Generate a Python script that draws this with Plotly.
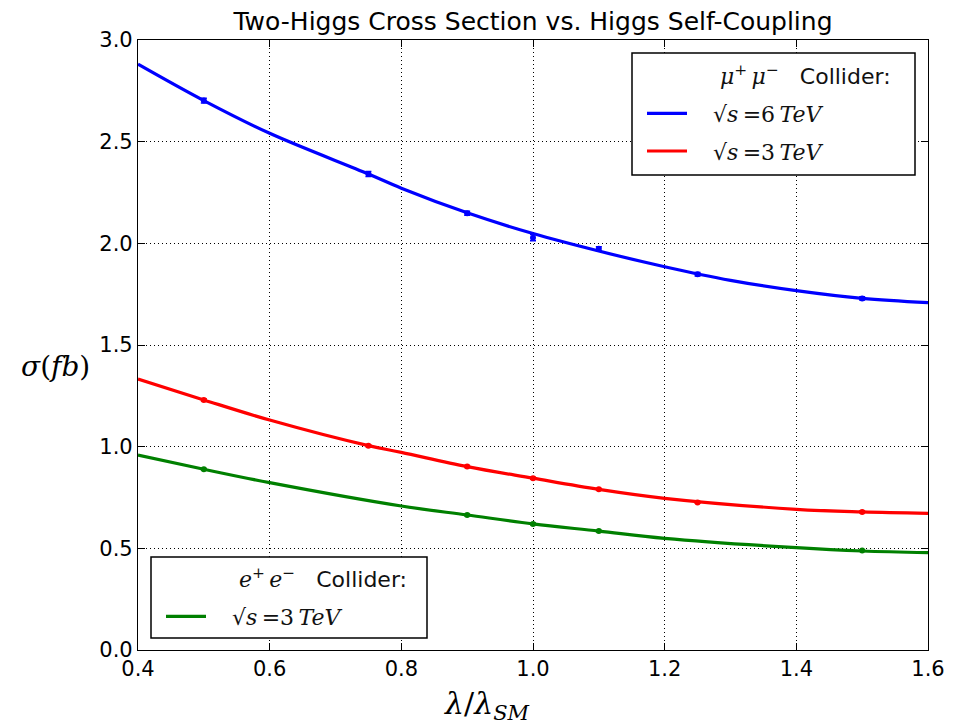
import plotly.graph_objects as go

# Fitted curves
mu6_curve_x = [0.4, 0.5, 0.6, 0.75, 0.8, 0.9, 1.0, 1.1, 1.2, 1.3, 1.4, 1.5, 1.6]
mu6_curve_y = [2.881, 2.702, 2.541, 2.341, 2.271, 2.150, 2.048, 1.962, 1.885, 1.818, 1.767, 1.729, 1.708]

mu3_curve_x = [0.4, 0.5, 0.6, 0.75, 0.8, 0.9, 1.0, 1.1, 1.2, 1.4, 1.5, 1.6]
mu3_curve_y = [1.333, 1.230, 1.131, 1.005, 0.972, 0.902, 0.845, 0.790, 0.746, 0.692, 0.679, 0.672]

ee3_curve_x = [0.4, 0.5, 0.6, 0.8, 0.9, 1.0, 1.1, 1.2, 1.4, 1.5, 1.6]
ee3_curve_y = [0.959, 0.889, 0.823, 0.708, 0.664, 0.620, 0.585, 0.549, 0.503, 0.487, 0.479]

# Simulated points with uncertainties
mu6_x = [0.5, 0.75, 0.9, 1.0, 1.1, 1.25, 1.5]
mu6_y = [2.702, 2.341, 2.148, 2.028, 1.973, 1.848, 1.729]
mu6_err = [0.012, 0.012, 0.010, 0.015, 0.010, 0.009, 0.008]

mu3_x = [0.5, 0.75, 0.9, 1.0, 1.1, 1.25, 1.5]
mu3_y = [1.230, 1.005, 0.902, 0.845, 0.790, 0.726, 0.679]
mu3_err = [0.006, 0.005, 0.005, 0.005, 0.004, 0.004, 0.004]

ee3_x = [0.5, 0.9, 1.0, 1.1, 1.5]
ee3_y = [0.889, 0.664, 0.620, 0.585, 0.489]
ee3_err = [0.004, 0.004, 0.004, 0.003, 0.003]

x_ticks = [0.4, 0.6, 0.8, 1.0, 1.2, 1.4, 1.6]
y_ticks = [0.0, 0.5, 1.0, 1.5, 2.0, 2.5, 3.0]

BLUE, RED, GREEN = "#0000ff", "#ff0000", "#008000"
FONT = "DejaVu Sans"
SERIF = "DejaVu Serif"

# plot area in pixels (for paper-coordinate conversions)
PL, PR, PT, PB = 138, 928, 40, 650
def px(xp):
    return (xp - PL) / (PR - PL)
def py(yp):
    return (PB - yp) / (PB - PT)

fig = go.Figure()

def add_points(x, y, err, color):
    fig.add_trace(go.Scatter(
        x=x, y=y, mode="markers", showlegend=False,
        marker=dict(color=color, size=6),
        error_y=dict(type="data", array=err, color=color, thickness=1.5, width=3),
    ))

PAD = "\u00a0\u00a0\u00a0"
HPAD = "\u00a0\u00a0\u00a0\u00a0"
# legend 1 header
fig.add_trace(go.Scatter(x=[None], y=[None], mode="lines",
                         line=dict(color="rgba(0,0,0,0)", width=0),
                         name=HPAD + "<i>μ</i><sup>+</sup>\u2009<i>μ</i><sup>−</sup>\u00a0\u00a0\u00a0<span style='font-family:DejaVu Sans'>Collider:</span>",
                         legend="legend", legendgroup="h1"))
fig.add_trace(go.Scatter(x=mu6_curve_x, y=mu6_curve_y, mode="lines",
                         line=dict(color=BLUE, width=3.2, shape="spline", smoothing=1.0),
                         name=PAD + "√<i>s</i>\u2009=6\u2009<i>TeV</i>", legend="legend", legendgroup="b"))
fig.add_trace(go.Scatter(x=mu3_curve_x, y=mu3_curve_y, mode="lines",
                         line=dict(color=RED, width=3.2, shape="spline", smoothing=1.0),
                         name=PAD + "√<i>s</i>\u2009=3\u2009<i>TeV</i>", legend="legend", legendgroup="r"))
# legend 2
fig.add_trace(go.Scatter(x=[None], y=[None], mode="lines",
                         line=dict(color="rgba(0,0,0,0)", width=0),
                         name=HPAD + "<i>e</i><sup>+</sup>\u2009<i>e</i><sup>−</sup>\u00a0\u00a0\u00a0<span style='font-family:DejaVu Sans'>Collider:</span>",
                         legend="legend2", legendgroup="h2"))
fig.add_trace(go.Scatter(x=ee3_curve_x, y=ee3_curve_y, mode="lines",
                         line=dict(color=GREEN, width=3.2, shape="spline", smoothing=1.0),
                         name=PAD + "√<i>s</i>\u2009=3\u2009<i>TeV</i>", legend="legend2", legendgroup="g"))

add_points(mu6_x, mu6_y, mu6_err, BLUE)
add_points(mu3_x, mu3_y, mu3_err, RED)
add_points(ee3_x, ee3_y, ee3_err, GREEN)

axis_common = dict(
    showline=True, linecolor="black", linewidth=1.2, mirror="ticks",
    ticks="inside", ticklen=7, tickcolor="black", tickwidth=1,
    showgrid=True, gridcolor="black", griddash="1px,3px", gridwidth=1,
    zeroline=False, tickfont=dict(family=FONT, size=21, color="black"),
)

legend_common = dict(
    bordercolor="rgba(0,0,0,0)", borderwidth=0, bgcolor="rgba(0,0,0,0)",
    font=dict(family=SERIF, size=22, color="#111"),
    itemwidth=40, traceorder="grouped", tracegroupgap=6,
)

fig.update_layout(
    width=962, height=720,
    margin=dict(l=PL, r=962 - PR, t=PT, b=720 - PB),
    plot_bgcolor="white", paper_bgcolor="white",
    font=dict(family=FONT, color="black"),
    title=dict(text="Two-Higgs Cross Section vs. Higgs Self-Coupling",
               x=(PL + PR) / 2 / 962, xanchor="center", y=1 - 21 / 720, yanchor="middle",
               font=dict(family=FONT, size=25, color="black")),
    xaxis=dict(range=[0.4, 1.6], tickvals=x_ticks, tickformat=".1f", **axis_common),
    yaxis=dict(range=[0.0, 3.0], tickvals=y_ticks, tickformat=".1f", **axis_common),
    legend=dict(x=px(642), y=py(55), xanchor="left", yanchor="top", **legend_common),
    legend2=dict(x=px(161), y=py(558), xanchor="left", yanchor="top", **legend_common),
)

# legend frames
for x0, x1, y0, y1 in [(632, 915, 53, 175), (151, 427, 557, 638)]:
    fig.add_shape(type="rect", xref="paper", yref="paper",
                  x0=px(x0), x1=px(x1), y0=py(y1), y1=py(y0),
                  line=dict(color="black", width=1.5), fillcolor="white", layer="above")

fig.add_annotation(text="<i>σ</i>(<i>fb</i>)", xref="paper", yref="paper",
                   x=px(55), y=py(366), xanchor="center", yanchor="middle",
                   showarrow=False, font=dict(family=SERIF, size=28, color="black"))
fig.add_annotation(text="<i>λ</i>/<i>λ</i><sub><i>SM</i></sub>", xref="paper", yref="paper",
                   x=px(487), y=py(684), xanchor="center", yanchor="top",
                   showarrow=False, font=dict(family=SERIF, size=30, color="black"))

fig.write_html("out.html")
